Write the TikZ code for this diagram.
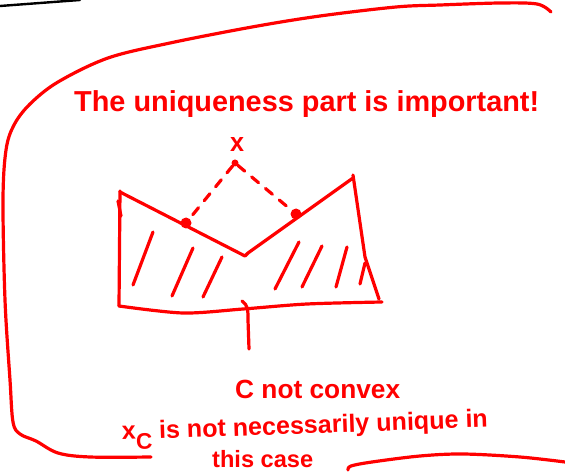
\documentclass[tikz,border=0pt]{standalone}
\usepackage{fontspec}
\setmainfont{Liberation Sans}
\usepackage{graphicx}
\definecolor{ink}{RGB}{255,0,0}
\tikzset{
  pen/.style={draw=ink, line width=3.2pt, line cap=round, line join=round},
  lbl/.style={text=ink, inner sep=0pt, anchor=base west, font=\bfseries},
  dashline/.style={pen, dash pattern=on 9pt off 9pt},
  dot/.style={circle, fill=ink, inner sep=0pt, minimum size=11pt},
  smalldot/.style={circle, fill=ink, inner sep=0pt, minimum size=7pt}
}
\begin{document}
\begin{tikzpicture}[x=1pt,y=-1pt]
\useasboundingbox (0,0) rectangle (565,473);
% black stroke top left
\draw[black, line width=2.4pt, line cap=round] (0,6) -- (80,0);
% big bracket
\draw[pen] plot[smooth, tension=0.55] coordinates {(551,12) (537,4) (500,3) (440,5) (396,7) (320,16) (252,27) (170,43) (108,58) (58,82) (30,104) (14,125) (6,150) (3,200) (5,300) (10,380) (13,422) (20,434) (36,441) (58,453) (90,457) (151,457)};
\draw[pen] plot[smooth, tension=0.55] coordinates {(348,470) (351,466) (372,462) (420,456) (463,454) (520,457) (565,462)};
% titles
\node[lbl] (title) at (74,112) {\resizebox{465pt}{!}{The uniqueness part is important!}};
\node[lbl] (xlab) at (230,152) {\resizebox{14pt}{14pt}{x}};
\node[lbl] (notconvex) at (235,398) {\resizebox{165pt}{!}{C not convex}};
\node[lbl, rotate=2] (line1) at (122,440) {\resizebox{366pt}{!}{x\raisebox{-0.4em}{\small C} is not necessarily unique in}};
\node[lbl] (line2) at (212,467) {\resizebox{101pt}{!}{this case}};
% set C
\draw[pen] (120,191) -- (119,306);
\draw[pen] plot[smooth, tension=0.5] coordinates {(119,306) (183,313) (243,309) (307,304) (382,302)};
\draw[pen] (353,175) -- (365,257) -- (379,299);
\draw[pen] (353,178) -- (248,253) -- (245,256) -- (120,192);
\draw[pen] (118,201) -- (121,216);
% hatches
\draw[pen] (153,232) -- (133,285);
\draw[pen] (193,248) -- (172,296);
\draw[pen] (222,257) -- (203,297);
\draw[pen] (299,242) -- (275,289);
\draw[pen] (322,246) -- (302,287);
\draw[pen] (347,247) -- (336,287);
\draw[pen] (365,263) -- (360,284);
% stem
\draw[pen] (242,301) .. controls (248,305) and (248,310) .. (248,320) -- (249,349);
% point x and projections
\node[smalldot] (xo) at (235,163) {};
\node[dot] (d1) at (186,223) {};
\node[dot] (d2) at (296,214) {};
\draw[dashline] (xo) -- (d1);
\draw[dashline] (xo) -- (d2);
\end{tikzpicture}
\end{document}
